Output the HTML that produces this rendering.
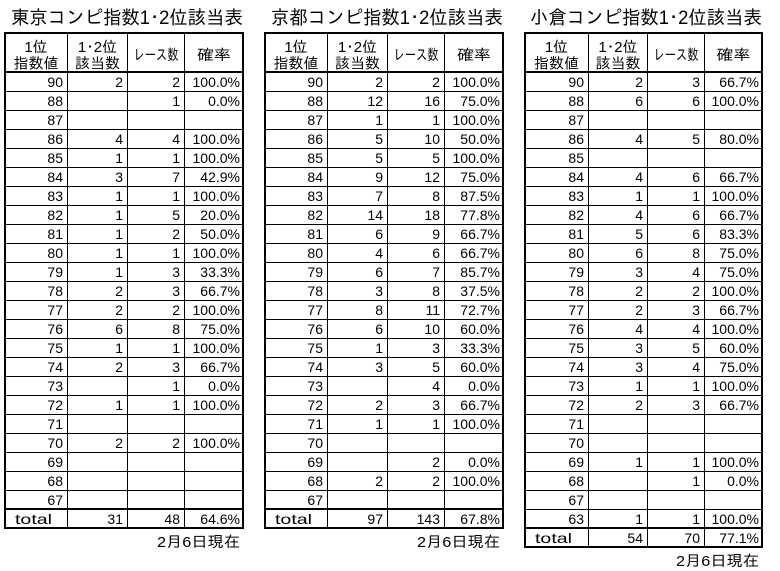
<!DOCTYPE html>
<html>
<head>
<meta charset="utf-8">
<style>
html,body{margin:0;padding:0;background:#fff;}
svg{display:block;}
text{font-family:"Liberation Sans","IPAGothic",sans-serif;fill:#000;}
.t{font-size:19px;text-anchor:end;}
.h{font-size:15px;text-anchor:middle;}
.d text{font-size:14px;text-anchor:end;}
.d text.tot{text-anchor:start;}
.n{font-size:15px;text-anchor:end;}
.ln{stroke:#000;stroke-width:1;shape-rendering:crispEdges;}
.bd{stroke:#000;stroke-width:2;fill:none;shape-rendering:crispEdges;}
</style>
</head>
<body>
<svg xmlns="http://www.w3.org/2000/svg" width="780" height="571" viewBox="0 0 780 571">
<rect x="0" y="0" width="780" height="571" fill="#fff"/>

<!-- ========== TABLE 1 東京 ========== -->
<text class="t" x="243" y="24" textLength="232" lengthAdjust="spacingAndGlyphs">東京コンピ指数1･2位該当表</text>
<g transform="translate(5,0)">
  <g class="ln">
    <line x1="62.5" y1="33" x2="62.5" y2="528"/>
    <line x1="122.5" y1="33" x2="122.5" y2="528"/>
    <line x1="179.5" y1="33" x2="179.5" y2="528"/>
    <line x1="0" y1="91.5" x2="238" y2="91.5"/>
    <line x1="0" y1="110.5" x2="238" y2="110.5"/>
    <line x1="0" y1="129.5" x2="238" y2="129.5"/>
    <line x1="0" y1="148.5" x2="238" y2="148.5"/>
    <line x1="0" y1="167.5" x2="238" y2="167.5"/>
    <line x1="0" y1="186.5" x2="238" y2="186.5"/>
    <line x1="0" y1="205.5" x2="238" y2="205.5"/>
    <line x1="0" y1="224.5" x2="238" y2="224.5"/>
    <line x1="0" y1="243.5" x2="238" y2="243.5"/>
    <line x1="0" y1="262.5" x2="238" y2="262.5"/>
    <line x1="0" y1="281.5" x2="238" y2="281.5"/>
    <line x1="0" y1="300.5" x2="238" y2="300.5"/>
    <line x1="0" y1="319.5" x2="238" y2="319.5"/>
    <line x1="0" y1="338.5" x2="238" y2="338.5"/>
    <line x1="0" y1="357.5" x2="238" y2="357.5"/>
    <line x1="0" y1="376.5" x2="238" y2="376.5"/>
    <line x1="0" y1="395.5" x2="238" y2="395.5"/>
    <line x1="0" y1="414.5" x2="238" y2="414.5"/>
    <line x1="0" y1="433.5" x2="238" y2="433.5"/>
    <line x1="0" y1="452.5" x2="238" y2="452.5"/>
    <line x1="0" y1="471.5" x2="238" y2="471.5"/>
    <line x1="0" y1="490.5" x2="238" y2="490.5"/>
  </g>
  <line class="bd" x1="0" y1="72" x2="238" y2="72"/>
  <line class="bd" x1="0" y1="509" x2="238" y2="509"/>
  <rect class="bd" x="0" y="33" width="238" height="495"/>
  <text class="h" x="31" y="52">1位</text>
  <text class="h" x="31" y="68.5">指数値</text>
  <text class="h" x="92.5" y="52">1･2位</text>
  <text class="h" x="92.5" y="68.5">該当数</text>
  <text class="h" x="151" y="60" textLength="45" lengthAdjust="spacingAndGlyphs">レース数</text>
  <text class="h" x="209" y="60" textLength="34" lengthAdjust="spacingAndGlyphs">確率</text>
  <g class="d">
    <g transform="translate(0,87)"><text x="58">90</text><text x="118">2</text><text x="175">2</text><text x="235">100.0%</text></g>
    <g transform="translate(0,106)"><text x="58">88</text><text x="175">1</text><text x="235">0.0%</text></g>
    <g transform="translate(0,125)"><text x="58">87</text></g>
    <g transform="translate(0,144)"><text x="58">86</text><text x="118">4</text><text x="175">4</text><text x="235">100.0%</text></g>
    <g transform="translate(0,163)"><text x="58">85</text><text x="118">1</text><text x="175">1</text><text x="235">100.0%</text></g>
    <g transform="translate(0,182)"><text x="58">84</text><text x="118">3</text><text x="175">7</text><text x="235">42.9%</text></g>
    <g transform="translate(0,201)"><text x="58">83</text><text x="118">1</text><text x="175">1</text><text x="235">100.0%</text></g>
    <g transform="translate(0,220)"><text x="58">82</text><text x="118">1</text><text x="175">5</text><text x="235">20.0%</text></g>
    <g transform="translate(0,239)"><text x="58">81</text><text x="118">1</text><text x="175">2</text><text x="235">50.0%</text></g>
    <g transform="translate(0,258)"><text x="58">80</text><text x="118">1</text><text x="175">1</text><text x="235">100.0%</text></g>
    <g transform="translate(0,277)"><text x="58">79</text><text x="118">1</text><text x="175">3</text><text x="235">33.3%</text></g>
    <g transform="translate(0,296)"><text x="58">78</text><text x="118">2</text><text x="175">3</text><text x="235">66.7%</text></g>
    <g transform="translate(0,315)"><text x="58">77</text><text x="118">2</text><text x="175">2</text><text x="235">100.0%</text></g>
    <g transform="translate(0,334)"><text x="58">76</text><text x="118">6</text><text x="175">8</text><text x="235">75.0%</text></g>
    <g transform="translate(0,353)"><text x="58">75</text><text x="118">1</text><text x="175">1</text><text x="235">100.0%</text></g>
    <g transform="translate(0,372)"><text x="58">74</text><text x="118">2</text><text x="175">3</text><text x="235">66.7%</text></g>
    <g transform="translate(0,391)"><text x="58">73</text><text x="175">1</text><text x="235">0.0%</text></g>
    <g transform="translate(0,410)"><text x="58">72</text><text x="118">1</text><text x="175">1</text><text x="235">100.0%</text></g>
    <g transform="translate(0,429)"><text x="58">71</text></g>
    <g transform="translate(0,448)"><text x="58">70</text><text x="118">2</text><text x="175">2</text><text x="235">100.0%</text></g>
    <g transform="translate(0,467)"><text x="58">69</text></g>
    <g transform="translate(0,486)"><text x="58">68</text></g>
    <g transform="translate(0,505)"><text x="58">67</text></g>
    <g transform="translate(0,524)"><text class="tot" x="10" textLength="37" lengthAdjust="spacingAndGlyphs">total</text><text x="118">31</text><text x="175">48</text><text x="235">64.6%</text></g>
  </g>
</g>
<text class="n" x="240" y="547" textLength="83" lengthAdjust="spacingAndGlyphs">2月6日現在</text>

<!-- ========== TABLE 2 京都 ========== -->
<text class="t" x="503" y="24" textLength="232" lengthAdjust="spacingAndGlyphs">京都コンピ指数1･2位該当表</text>
<g transform="translate(265,0)">
  <g class="ln">
    <line x1="62.5" y1="33" x2="62.5" y2="528"/>
    <line x1="122.5" y1="33" x2="122.5" y2="528"/>
    <line x1="179.5" y1="33" x2="179.5" y2="528"/>
    <line x1="0" y1="91.5" x2="238" y2="91.5"/>
    <line x1="0" y1="110.5" x2="238" y2="110.5"/>
    <line x1="0" y1="129.5" x2="238" y2="129.5"/>
    <line x1="0" y1="148.5" x2="238" y2="148.5"/>
    <line x1="0" y1="167.5" x2="238" y2="167.5"/>
    <line x1="0" y1="186.5" x2="238" y2="186.5"/>
    <line x1="0" y1="205.5" x2="238" y2="205.5"/>
    <line x1="0" y1="224.5" x2="238" y2="224.5"/>
    <line x1="0" y1="243.5" x2="238" y2="243.5"/>
    <line x1="0" y1="262.5" x2="238" y2="262.5"/>
    <line x1="0" y1="281.5" x2="238" y2="281.5"/>
    <line x1="0" y1="300.5" x2="238" y2="300.5"/>
    <line x1="0" y1="319.5" x2="238" y2="319.5"/>
    <line x1="0" y1="338.5" x2="238" y2="338.5"/>
    <line x1="0" y1="357.5" x2="238" y2="357.5"/>
    <line x1="0" y1="376.5" x2="238" y2="376.5"/>
    <line x1="0" y1="395.5" x2="238" y2="395.5"/>
    <line x1="0" y1="414.5" x2="238" y2="414.5"/>
    <line x1="0" y1="433.5" x2="238" y2="433.5"/>
    <line x1="0" y1="452.5" x2="238" y2="452.5"/>
    <line x1="0" y1="471.5" x2="238" y2="471.5"/>
    <line x1="0" y1="490.5" x2="238" y2="490.5"/>
  </g>
  <line class="bd" x1="0" y1="72" x2="238" y2="72"/>
  <line class="bd" x1="0" y1="509" x2="238" y2="509"/>
  <rect class="bd" x="0" y="33" width="238" height="495"/>
  <text class="h" x="31" y="52">1位</text>
  <text class="h" x="31" y="68.5">指数値</text>
  <text class="h" x="92.5" y="52">1･2位</text>
  <text class="h" x="92.5" y="68.5">該当数</text>
  <text class="h" x="151" y="60" textLength="45" lengthAdjust="spacingAndGlyphs">レース数</text>
  <text class="h" x="209" y="60" textLength="34" lengthAdjust="spacingAndGlyphs">確率</text>
  <g class="d">
    <g transform="translate(0,87)"><text x="58">90</text><text x="118">2</text><text x="175">2</text><text x="235">100.0%</text></g>
    <g transform="translate(0,106)"><text x="58">88</text><text x="118">12</text><text x="175">16</text><text x="235">75.0%</text></g>
    <g transform="translate(0,125)"><text x="58">87</text><text x="118">1</text><text x="175">1</text><text x="235">100.0%</text></g>
    <g transform="translate(0,144)"><text x="58">86</text><text x="118">5</text><text x="175">10</text><text x="235">50.0%</text></g>
    <g transform="translate(0,163)"><text x="58">85</text><text x="118">5</text><text x="175">5</text><text x="235">100.0%</text></g>
    <g transform="translate(0,182)"><text x="58">84</text><text x="118">9</text><text x="175">12</text><text x="235">75.0%</text></g>
    <g transform="translate(0,201)"><text x="58">83</text><text x="118">7</text><text x="175">8</text><text x="235">87.5%</text></g>
    <g transform="translate(0,220)"><text x="58">82</text><text x="118">14</text><text x="175">18</text><text x="235">77.8%</text></g>
    <g transform="translate(0,239)"><text x="58">81</text><text x="118">6</text><text x="175">9</text><text x="235">66.7%</text></g>
    <g transform="translate(0,258)"><text x="58">80</text><text x="118">4</text><text x="175">6</text><text x="235">66.7%</text></g>
    <g transform="translate(0,277)"><text x="58">79</text><text x="118">6</text><text x="175">7</text><text x="235">85.7%</text></g>
    <g transform="translate(0,296)"><text x="58">78</text><text x="118">3</text><text x="175">8</text><text x="235">37.5%</text></g>
    <g transform="translate(0,315)"><text x="58">77</text><text x="118">8</text><text x="175">11</text><text x="235">72.7%</text></g>
    <g transform="translate(0,334)"><text x="58">76</text><text x="118">6</text><text x="175">10</text><text x="235">60.0%</text></g>
    <g transform="translate(0,353)"><text x="58">75</text><text x="118">1</text><text x="175">3</text><text x="235">33.3%</text></g>
    <g transform="translate(0,372)"><text x="58">74</text><text x="118">3</text><text x="175">5</text><text x="235">60.0%</text></g>
    <g transform="translate(0,391)"><text x="58">73</text><text x="175">4</text><text x="235">0.0%</text></g>
    <g transform="translate(0,410)"><text x="58">72</text><text x="118">2</text><text x="175">3</text><text x="235">66.7%</text></g>
    <g transform="translate(0,429)"><text x="58">71</text><text x="118">1</text><text x="175">1</text><text x="235">100.0%</text></g>
    <g transform="translate(0,448)"><text x="58">70</text></g>
    <g transform="translate(0,467)"><text x="58">69</text><text x="175">2</text><text x="235">0.0%</text></g>
    <g transform="translate(0,486)"><text x="58">68</text><text x="118">2</text><text x="175">2</text><text x="235">100.0%</text></g>
    <g transform="translate(0,505)"><text x="58">67</text></g>
    <g transform="translate(0,524)"><text class="tot" x="10" textLength="37" lengthAdjust="spacingAndGlyphs">total</text><text x="118">97</text><text x="175">143</text><text x="235">67.8%</text></g>
  </g>
</g>
<text class="n" x="500" y="547" textLength="83" lengthAdjust="spacingAndGlyphs">2月6日現在</text>

<!-- ========== TABLE 3 小倉 ========== -->
<text class="t" x="762" y="24" textLength="232" lengthAdjust="spacingAndGlyphs">小倉コンピ指数1･2位該当表</text>
<g transform="translate(525,0)">
  <g class="ln">
    <line x1="63.5" y1="33" x2="63.5" y2="547"/>
    <line x1="122.5" y1="33" x2="122.5" y2="547"/>
    <line x1="179.5" y1="33" x2="179.5" y2="547"/>
    <line x1="0" y1="91.5" x2="237" y2="91.5"/>
    <line x1="0" y1="110.5" x2="237" y2="110.5"/>
    <line x1="0" y1="129.5" x2="237" y2="129.5"/>
    <line x1="0" y1="148.5" x2="237" y2="148.5"/>
    <line x1="0" y1="167.5" x2="237" y2="167.5"/>
    <line x1="0" y1="186.5" x2="237" y2="186.5"/>
    <line x1="0" y1="205.5" x2="237" y2="205.5"/>
    <line x1="0" y1="224.5" x2="237" y2="224.5"/>
    <line x1="0" y1="243.5" x2="237" y2="243.5"/>
    <line x1="0" y1="262.5" x2="237" y2="262.5"/>
    <line x1="0" y1="281.5" x2="237" y2="281.5"/>
    <line x1="0" y1="300.5" x2="237" y2="300.5"/>
    <line x1="0" y1="319.5" x2="237" y2="319.5"/>
    <line x1="0" y1="338.5" x2="237" y2="338.5"/>
    <line x1="0" y1="357.5" x2="237" y2="357.5"/>
    <line x1="0" y1="376.5" x2="237" y2="376.5"/>
    <line x1="0" y1="395.5" x2="237" y2="395.5"/>
    <line x1="0" y1="414.5" x2="237" y2="414.5"/>
    <line x1="0" y1="433.5" x2="237" y2="433.5"/>
    <line x1="0" y1="452.5" x2="237" y2="452.5"/>
    <line x1="0" y1="471.5" x2="237" y2="471.5"/>
    <line x1="0" y1="490.5" x2="237" y2="490.5"/>
    <line x1="0" y1="509.5" x2="237" y2="509.5"/>
  </g>
  <line class="bd" x1="0" y1="72" x2="237" y2="72"/>
  <line class="bd" x1="0" y1="528" x2="237" y2="528"/>
  <rect class="bd" x="0" y="33" width="237" height="514"/>
  <text class="h" x="31.5" y="52">1位</text>
  <text class="h" x="31.5" y="68.5">指数値</text>
  <text class="h" x="93" y="52">1･2位</text>
  <text class="h" x="93" y="68.5">該当数</text>
  <text class="h" x="151" y="60" textLength="45" lengthAdjust="spacingAndGlyphs">レース数</text>
  <text class="h" x="208.5" y="60" textLength="34" lengthAdjust="spacingAndGlyphs">確率</text>
  <g class="d">
    <g transform="translate(0,87)"><text x="59">90</text><text x="118">2</text><text x="175">3</text><text x="234">66.7%</text></g>
    <g transform="translate(0,106)"><text x="59">88</text><text x="118">6</text><text x="175">6</text><text x="234">100.0%</text></g>
    <g transform="translate(0,125)"><text x="59">87</text></g>
    <g transform="translate(0,144)"><text x="59">86</text><text x="118">4</text><text x="175">5</text><text x="234">80.0%</text></g>
    <g transform="translate(0,163)"><text x="59">85</text></g>
    <g transform="translate(0,182)"><text x="59">84</text><text x="118">4</text><text x="175">6</text><text x="234">66.7%</text></g>
    <g transform="translate(0,201)"><text x="59">83</text><text x="118">1</text><text x="175">1</text><text x="234">100.0%</text></g>
    <g transform="translate(0,220)"><text x="59">82</text><text x="118">4</text><text x="175">6</text><text x="234">66.7%</text></g>
    <g transform="translate(0,239)"><text x="59">81</text><text x="118">5</text><text x="175">6</text><text x="234">83.3%</text></g>
    <g transform="translate(0,258)"><text x="59">80</text><text x="118">6</text><text x="175">8</text><text x="234">75.0%</text></g>
    <g transform="translate(0,277)"><text x="59">79</text><text x="118">3</text><text x="175">4</text><text x="234">75.0%</text></g>
    <g transform="translate(0,296)"><text x="59">78</text><text x="118">2</text><text x="175">2</text><text x="234">100.0%</text></g>
    <g transform="translate(0,315)"><text x="59">77</text><text x="118">2</text><text x="175">3</text><text x="234">66.7%</text></g>
    <g transform="translate(0,334)"><text x="59">76</text><text x="118">4</text><text x="175">4</text><text x="234">100.0%</text></g>
    <g transform="translate(0,353)"><text x="59">75</text><text x="118">3</text><text x="175">5</text><text x="234">60.0%</text></g>
    <g transform="translate(0,372)"><text x="59">74</text><text x="118">3</text><text x="175">4</text><text x="234">75.0%</text></g>
    <g transform="translate(0,391)"><text x="59">73</text><text x="118">1</text><text x="175">1</text><text x="234">100.0%</text></g>
    <g transform="translate(0,410)"><text x="59">72</text><text x="118">2</text><text x="175">3</text><text x="234">66.7%</text></g>
    <g transform="translate(0,429)"><text x="59">71</text></g>
    <g transform="translate(0,448)"><text x="59">70</text></g>
    <g transform="translate(0,467)"><text x="59">69</text><text x="118">1</text><text x="175">1</text><text x="234">100.0%</text></g>
    <g transform="translate(0,486)"><text x="59">68</text><text x="175">1</text><text x="234">0.0%</text></g>
    <g transform="translate(0,505)"><text x="59">67</text></g>
    <g transform="translate(0,524)"><text x="59">63</text><text x="118">1</text><text x="175">1</text><text x="234">100.0%</text></g>
    <g transform="translate(0,543)"><text class="tot" x="10" textLength="37" lengthAdjust="spacingAndGlyphs">total</text><text x="118">54</text><text x="175">70</text><text x="234">77.1%</text></g>
  </g>
</g>
<text class="n" x="759" y="566" textLength="83" lengthAdjust="spacingAndGlyphs">2月6日現在</text>
</svg>
</body>
</html>
